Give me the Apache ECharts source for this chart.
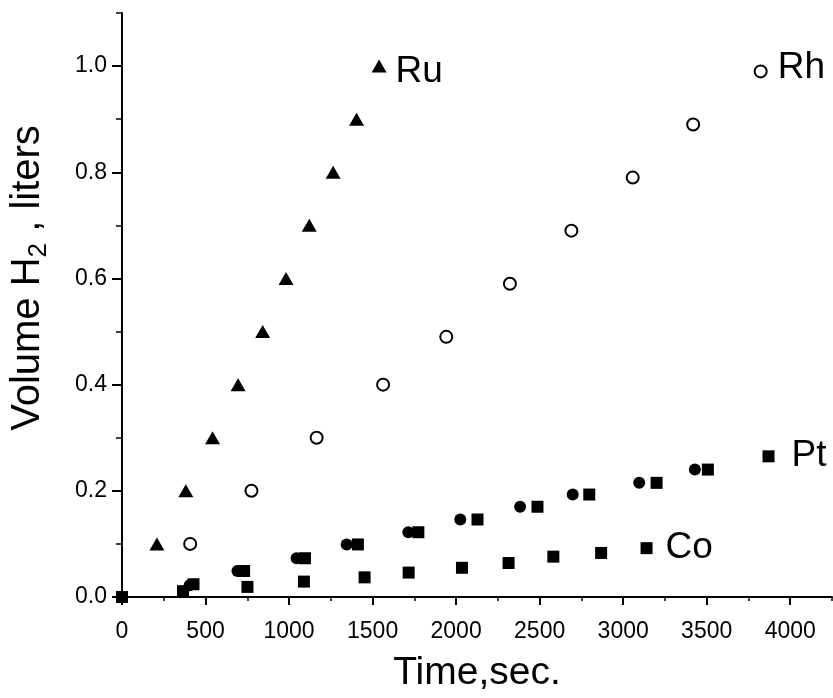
<!DOCTYPE html>
<html>
<head>
<meta charset="utf-8">
<script src="https://cdn.jsdelivr.net/npm/echarts@6/dist/echarts.min.js"></script>
<style>
  html, body { margin: 0; padding: 0; background: #fff; }
  #chart { width: 833px; height: 698px; }
</style>
</head>
<body>
<div id="chart"></div>
<script>
// ---- data ----
const xTickLabels = [0, 500, 1000, 1500, 2000, 2500, 3000, 3500, 4000];
const yTickLabels = [0, 0.2, 0.4, 0.6, 0.8, 1.0];

const ruX = [209, 382, 542, 695, 842, 982, 1121, 1264, 1404, 1539];
const ruY = [0.10, 0.20, 0.30, 0.40, 0.50, 0.60, 0.70, 0.80, 0.90, 1.00];

const rhX = [408, 775, 1165, 1563, 1941, 2322, 2690, 3057, 3419, 3823];
const rhY = [0.10, 0.20, 0.30, 0.40, 0.49, 0.59, 0.69, 0.79, 0.89, 0.99];

const ptX = [0, 428, 731, 1095, 1412, 1774, 2128, 2487, 2797, 3200, 3507, 3870];
const ptY = [0, 0.024, 0.049, 0.073, 0.099, 0.122, 0.146, 0.170, 0.193, 0.215, 0.240, 0.265];

const ptCircleX = [0, 405, 691, 1045, 1345, 1714, 2025, 2383, 2698, 3096, 3429];
const ptCircleY = [0, 0.022, 0.049, 0.073, 0.099, 0.122, 0.146, 0.170, 0.193, 0.215, 0.240];

const coX = [0, 365, 751, 1089, 1452, 1716, 2035, 2314, 2582, 2868, 3140];
const coY = [0, 0.011, 0.019, 0.029, 0.037, 0.046, 0.055, 0.064, 0.076, 0.083, 0.092];

const FONT = '"Liberation Sans", Arial, Helvetica, sans-serif';

function pts(xs, ys, labelText, labelOpts) {
  return xs.map((x, i) => {
    const item = { value: [x, ys[i]] };
    if (labelText && i === xs.length - 1) {
      item.label = Object.assign({
        show: true, position: 'right', formatter: labelText,
        color: '#000', fontSize: 37, fontFamily: FONT
      }, labelOpts || {});
    }
    return item;
  });
}

const grid = { left: 122, right: 1, top: 13, bottom: 101 };

const chart = echarts.init(document.getElementById('chart'), null, { renderer: 'canvas' });
chart.setOption({
  backgroundColor: '#fff',
  animation: false,
  grid: [Object.assign({}, grid), Object.assign({}, grid)],
  xAxis: [{
    type: 'value', gridIndex: 0, min: 0, max: 4250, interval: 500,
    axisLine: { show: true, onZero: false, lineStyle: { color: '#000', width: 2 } },
    axisTick: { show: true, inside: false, length: 8, lineStyle: { color: '#000', width: 2 },
      customValues: xTickLabels },
    axisLabel: { customValues: xTickLabels, color: '#000', fontSize: 23, fontFamily: FONT, margin: 23,
      formatter: v => String(Math.round(v)) },
    splitLine: { show: false },
    name: 'Time,sec.', nameLocation: 'middle', nameGap: 57,
    nameTextStyle: { color: '#000', fontSize: 39, fontFamily: FONT }
  }, {
    type: 'value', gridIndex: 1, min: 0, max: 4250, interval: 250,
    axisLine: { show: false },
    axisTick: { show: true, inside: false, length: 4, lineStyle: { color: '#000', width: 1.5 } },
    axisLabel: { show: false },
    splitLine: { show: false }
  }],
  yAxis: [{
    type: 'value', gridIndex: 0, min: 0, max: 1.1, interval: 0.2,
    axisLine: { show: true, onZero: false, lineStyle: { color: '#000', width: 2 } },
    axisTick: { show: true, inside: false, length: 10, lineStyle: { color: '#000', width: 2 },
      customValues: yTickLabels },
    axisLabel: { customValues: yTickLabels, color: '#000', fontSize: 23, fontFamily: FONT, margin: 15,
      formatter: v => Number(v).toFixed(1) },
    splitLine: { show: false }
  }, {
    type: 'value', gridIndex: 1, min: 0, max: 1.1, interval: 0.1,
    axisLine: { show: false },
    axisTick: { show: true, inside: false, length: 6, lineStyle: { color: '#000', width: 1.5 } },
    axisLabel: { show: false },
    splitLine: { show: false }
  }],
  graphic: [{
    type: 'text', x: 28, y: 278, rotation: Math.PI / 2,
    style: {
      text: '{a|Volume H}{s|2}{a| , liters}',
      align: 'center', verticalAlign: 'middle',
      fill: '#000',
      rich: {
        a: { fontSize: 40, fontFamily: FONT, lineHeight: 48, fill: '#000', color: '#000' },
        s: { fontSize: 26, fontFamily: FONT, lineHeight: 26, verticalAlign: 'bottom', fill: '#000', color: '#000' }
      }
    }
  }],
  series: [{
    name: 'Ru', type: 'scatter', xAxisIndex: 0, yAxisIndex: 0, clip: false,
    symbol: 'triangle', symbolSize: [15, 13],
    itemStyle: { color: '#000', opacity: 1 },
    data: pts(ruX, ruY, 'Ru', { distance: 9, offset: [0, 6] })
  }, {
    name: 'Rh', type: 'scatter', xAxisIndex: 0, yAxisIndex: 0, clip: false,
    symbol: 'circle', symbolSize: 12,
    itemStyle: { color: '#fff', borderColor: '#000', borderWidth: 2, opacity: 1 },
    data: pts(rhX, rhY, 'Rh', { distance: 10, offset: [0, -4] })
  }, {
    name: 'Pt2', type: 'scatter', xAxisIndex: 0, yAxisIndex: 0, clip: false,
    symbol: 'circle', symbolSize: 12,
    itemStyle: { color: '#000', opacity: 1 },
    data: pts(ptCircleX, ptCircleY)
  }, {
    name: 'Pt', type: 'scatter', xAxisIndex: 0, yAxisIndex: 0, clip: false,
    symbol: 'rect', symbolSize: 12,
    itemStyle: { color: '#000', opacity: 1 },
    data: pts(ptX, ptY, 'Pt', { distance: 17, offset: [0, -1] })
  }, {
    name: 'Co', type: 'scatter', xAxisIndex: 0, yAxisIndex: 0, clip: false,
    symbol: 'rect', symbolSize: 12,
    itemStyle: { color: '#000', opacity: 1 },
    data: pts(coX, coY, 'Co', { distance: 13, offset: [0, 0] })
  }]
});
</script>
</body>
</html>
